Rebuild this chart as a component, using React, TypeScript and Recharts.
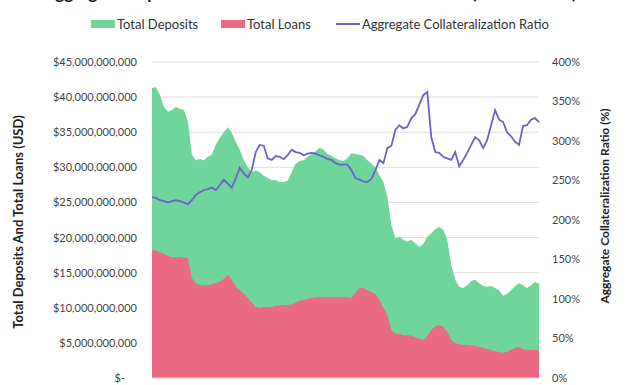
import React from 'react';
import { ComposedChart, Area, Line, XAxis, YAxis, CartesianGrid } from 'recharts';

// values, roughly one point per 4px of plot width
const depositsB = [
  41.3, 41.4, 40.3, 38.6, 37.9, 38.2, 38.6, 38.3, 38.2, 36.5,
  31.8, 31.0, 31.2, 31.0, 31.5, 31.8, 33.2, 34.2, 35.0, 35.7,
  34.9, 33.6, 32.5, 31.0, 30.0, 29.3, 29.6, 29.3, 28.8, 28.5,
  28.2, 28.2, 27.9, 27.9, 28.1, 29.3, 30.5, 30.9, 31.0, 31.5,
  31.9, 32.3, 32.8, 32.5, 31.9, 31.6, 31.3, 31.0, 30.9, 31.3,
  32.0, 31.9, 31.8, 31.6, 31.0, 30.5, 30.0, 28.9, 27.9, 25.8,
  21.8, 19.9, 20.1, 19.7, 19.4, 19.7, 19.2, 18.7, 19.1, 20.1,
  20.6, 21.2, 21.5, 21.1, 19.7, 16.1, 14.0, 13.0, 12.8, 13.2,
  13.8, 14.0, 13.5, 13.1, 13.0, 13.1, 12.8, 12.5, 11.7, 12.0,
  12.5, 13.1, 13.5, 13.2, 12.8, 13.2, 13.7, 13.4,
];

const loansB = [
  18.2, 18.2, 17.9, 17.7, 17.4, 17.2, 17.2, 17.2, 17.2, 17.0,
  14.2, 13.5, 13.2, 13.2, 13.2, 13.4, 13.5, 13.7, 14.1, 14.7,
  14.0, 13.0, 12.5, 12.0, 11.4, 10.8, 10.1, 10.0, 10.1, 10.1,
  10.1, 10.3, 10.3, 10.4, 10.4, 10.5, 10.7, 11.0, 11.1, 11.3,
  11.4, 11.5, 11.5, 11.5, 11.5, 11.5, 11.5, 11.5, 11.5, 11.5,
  11.4, 12.2, 12.8, 12.8, 12.5, 12.2, 12.0, 11.1, 10.0, 9.0,
  6.8, 6.3, 6.3, 6.1, 6.1, 6.0, 5.8, 5.6, 5.4, 6.0,
  6.8, 7.4, 7.5, 7.3, 6.6, 5.4, 5.0, 4.8, 4.7, 4.7,
  4.6, 4.6, 4.4, 4.3, 4.1, 4.0, 3.8, 3.7, 3.6, 3.7,
  4.0, 4.3, 4.4, 4.1, 4.0, 4.0, 4.0, 4.0,
];

const ratioPct = [
  229, 228, 225, 224, 222, 224, 225, 224, 222, 220,
  225, 232, 235, 238, 239, 241, 238, 244, 251, 246,
  241, 253, 266, 259, 254, 263, 286, 295, 294, 278,
  276, 281, 280, 277, 282, 289, 286, 285, 282, 284,
  285, 284, 282, 280, 277, 276, 272, 270, 270, 270,
  263, 253, 251, 249, 248, 252, 263, 276, 272, 291,
  294, 314, 320, 316, 318, 329, 334, 346, 358, 362,
  305, 286, 285, 280, 278, 276, 286, 268, 276, 285,
  295, 305, 301, 291, 301, 320, 339, 327, 324, 311,
  306, 299, 295, 319, 320, 327, 329, 324,
];

const xTicks = [0, 14, 27, 41, 55, 69, 83];
const usdTicks = [0, 5, 10, 15, 20, 25, 30, 35, 40, 45];
const pctTicks = [0, 50, 100, 150, 200, 250, 300, 350, 400];

const GREEN = '#6fd59a';
const RED = '#eb6a84';
const PURPLE = '#6a62c8';
const FONT = 'Lato, "Open Sans", sans-serif';

const data = depositsB.map((d, i) => ({
  idx: i,
  deposits: d,
  loans: loansB[i],
  ratio: ratioPct[i],
}));

const UsdTick = ({ x, y, payload }: any) => {
  const v = payload.value;
  const label = v === 0 ? '$-' : '$' + (v * 1e9).toLocaleString('en-US');
  return (
    <text x={v === 0 ? x - 12 : x} y={y} dy={4} textAnchor="end" fill="#444" fontSize={11} fontFamily={FONT}>
      {label}
    </text>
  );
};

export default function App() {
  return (
    <div style={{ position: 'absolute', left: 0, top: 0, width: 640, height: 385, overflow: 'hidden', background: '#fff', fontFamily: FONT }}>
      <div style={{ position: 'absolute', top: -17, left: 0, width: 620, textAlign: 'center', fontSize: 17, fontWeight: 700, lineHeight: '20px', color: '#111' }}>
        Aggregate Deposits and Loans vs. Collateralization Ratio (All Protocols)
      </div>

      <div style={{ position: 'absolute', top: 16, left: 0, width: 640, height: 16, fontSize: 13, color: '#333' }}>
        <div style={{ position: 'absolute', left: 91, top: 4, width: 24, height: 8, background: GREEN }} />
        <span style={{ position: 'absolute', left: 117, top: 0, lineHeight: '16px' }}>Total Deposits</span>
        <div style={{ position: 'absolute', left: 221, top: 4, width: 24, height: 8, background: RED }} />
        <span style={{ position: 'absolute', left: 247, top: 0, lineHeight: '16px' }}>Total Loans</span>
        <div style={{ position: 'absolute', left: 336, top: 7, width: 24, height: 2, background: PURPLE }} />
        <span style={{ position: 'absolute', left: 362, top: 0, lineHeight: '16px' }}>Aggregate Collateralization Ratio</span>
      </div>

      <ComposedChart width={640} height={385} data={data} margin={{ top: 62, right: 0, bottom: 0, left: 0 }}>
        <CartesianGrid yAxisId="usd" vertical={false} stroke="#dedede" />
        <XAxis
          dataKey="idx"
          type="number"
          domain={[0, 97]}
          ticks={xTicks}
          tick={false}
          height={7}
          stroke="#dcdcdc"
          tickSize={5}
        />
        <YAxis
          yAxisId="usd"
          orientation="left"
          width={152}
          domain={[0, 45]}
          ticks={usdTicks}
          interval={0}
          axisLine={false}
          tickLine={false}
          tickSize={0}
          tickMargin={15}
          tick={<UsdTick />}
        />
        <YAxis
          yAxisId="pct"
          orientation="right"
          width={101}
          domain={[0, 400]}
          ticks={pctTicks}
          interval={0}
          axisLine={false}
          tickLine={false}
          tickSize={0}
          tickMargin={13}
          tickFormatter={(v: number) => `${v}%`}
          tick={{ fill: '#444', fontSize: 11, fontFamily: FONT }}
        />
        <Area
          yAxisId="usd"
          type="linear"
          dataKey="deposits"
          name="Total Deposits"
          stroke="none"
          fill={GREEN}
          fillOpacity={1}
          isAnimationActive={false}
        />
        <Area
          yAxisId="usd"
          type="linear"
          dataKey="loans"
          name="Total Loans"
          stroke="none"
          fill={RED}
          fillOpacity={1}
          isAnimationActive={false}
        />
        <Line
          yAxisId="pct"
          type="linear"
          dataKey="ratio"
          name="Aggregate Collateralization Ratio"
          stroke={PURPLE}
          strokeWidth={1.8}
          dot={false}
          isAnimationActive={false}
        />
      </ComposedChart>

      <svg width={640} height={385} style={{ position: 'absolute', left: 0, top: 0, pointerEvents: 'none' }}>
        <text
          transform="translate(23,222) rotate(-90)"
          textAnchor="middle"
          fontSize={13}
          fontWeight={700}
          fill="#222"
          fontFamily={FONT}
        >
          Total Deposits And Total Loans (USD)
        </text>
        <text
          transform="translate(609,206) rotate(-90)"
          textAnchor="middle"
          fontSize={12}
          fontWeight={700}
          fill="#222"
          fontFamily={FONT}
        >
          Aggregate Collateralization Ratio (%)
        </text>
      </svg>
    </div>
  );
}
